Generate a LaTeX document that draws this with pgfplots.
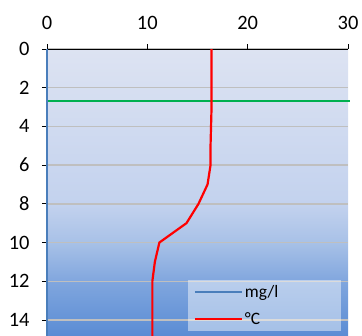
\documentclass[border=0pt]{standalone}
\usepackage{fontspec}
\setmainfont{Carlito}
\usepackage{pgfplots}
\pgfplotsset{compat=1.18}

\definecolor{gridgrey}{HTML}{BFBFBF}
\definecolor{tempred}{HTML}{FF0000}
\definecolor{oxyblue}{HTML}{4A7EBB}
\definecolor{thermogreen}{HTML}{00B050}
\definecolor{cTop}{HTML}{DDE3F2}
\definecolor{cMid}{HTML}{C3D2EE}
\definecolor{cLow}{HTML}{A8C1E7}
\definecolor{cDeep}{HTML}{80A6DE}
\definecolor{cBot}{HTML}{5A8CD4}

% water column: light at the surface, deep blue below
\pgfdeclareverticalshading{waterbg}{100bp}{%
  color(0bp)=(cBot); color(25bp)=(cBot); color(34.5bp)=(cDeep);
  color(41.3bp)=(cLow); color(48bp)=(cMid); color(75bp)=(cTop); color(100bp)=(cTop)}

\begin{document}
\begin{tikzpicture}
\path[use as bounding box] (-47bp,0) rectangle (315bp,336bp);
\begin{axis}[
  at={(0,0)}, anchor=south west,
  scale only axis, width=301bp, height=287bp,
  xmin=0, xmax=30, ymin=0, ymax=14.83, y dir=reverse,
  clip=false,
  axis x line*=top, axis y line*=left,
  xtick={0,10,20,30}, ytick={0,2,...,14},
  tick align=outside, major tick length=5bp,
  tick style={black, line width=0.8pt},
  axis line style={black, line width=1pt},
  ymajorgrids, grid style={gridgrey, line width=1.4pt},
  axis background/.style={shading=waterbg},
  tick label style={font=\fontsize{20.5}{23}\selectfont},
  xticklabel style={yshift=11bp},
  yticklabel style={xshift=-9bp},
  /pgf/number format/assume math mode=true,
  legend style={at={(0.977,0.017)}, anchor=south east, draw=none,
    fill=white, fill opacity=0.45, text opacity=1,
    font=\fontsize{17.5}{20}\selectfont, inner xsep=6bp, inner ysep=3bp,
    row sep=10bp},
  legend cell align=left,
  legend image code/.code={\draw[#1] (0bp,0bp) -- (47bp,0bp);},
]
% thermocline marker
\addplot[thermogreen, line width=2.2pt, forget plot] coordinates {(0,2.7) (30.2,2.7)};
\addplot[oxyblue, line width=1.9pt] coordinates {(0,0) (0,14.83)};
\addlegendentry{\makebox[88bp][l]{mg/l}}
\addplot[tempred, line width=2.2pt] coordinates {
  (16.4,0) (16.4,1) (16.4,2) (16.4,3) (16.35,4) (16.3,5) (16.3,6)
  (16.0,7) (15.1,8) (13.9,9) (11.2,10) (10.75,11) (10.5,12)
  (10.5,13) (10.5,14) (10.5,14.83)};
\addlegendentry{\makebox[88bp][l]{°C}}
\end{axis}
\end{tikzpicture}
\end{document}
